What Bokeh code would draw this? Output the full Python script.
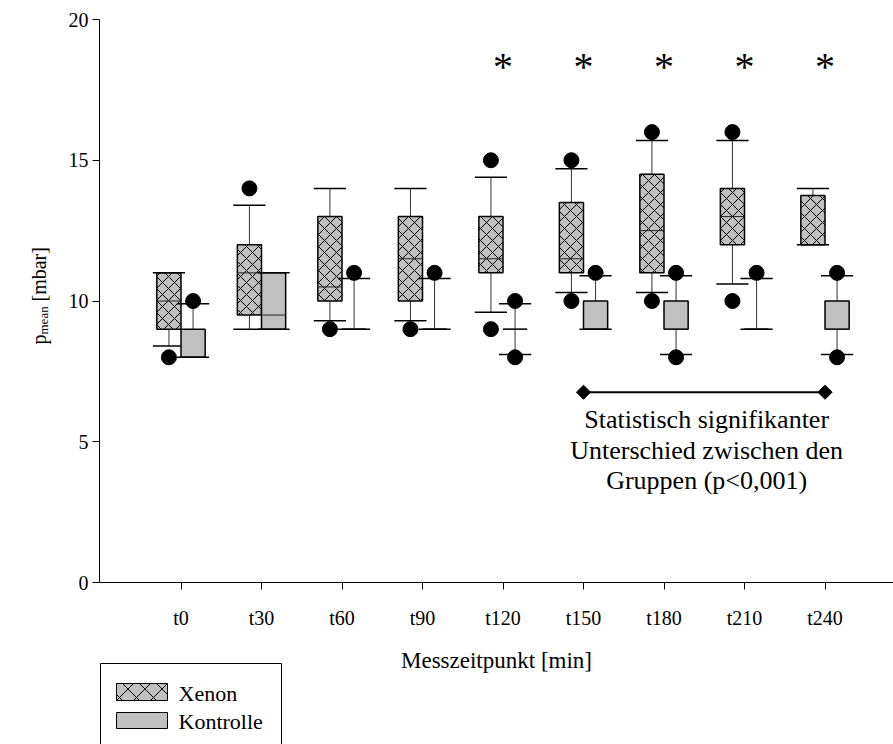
import math
from bokeh.plotting import figure
from bokeh.models import Range1d, ColumnDataSource
from bokeh.core.properties import value
from bokeh.embed import file_html
from bokeh.resources import INLINE

# ---------------- data ----------------
categories = ["t0", "t30", "t60", "t90", "t120", "t150", "t180", "t210", "t240"]

xenon_q1 = [9, 9.5, 10, 10, 11, 11, 11, 12, 12]
xenon_med = [10, 11, 10.5, 11.5, 11.5, 11.5, 12.5, 13, 12]
xenon_q3 = [11, 12, 13, 13, 13, 13.5, 14.5, 14, 13.75]
xenon_wlo = [8.4, 9, 9.3, 9.3, 9.6, 10.3, 10.3, 10.6, 12]
xenon_whi = [11, 13.4, 14, 14, 14.4, 14.7, 15.7, 15.7, 14]
xenon_out_cat = ["t0", "t30", "t60", "t90", "t120", "t120", "t150", "t150", "t180", "t180", "t210", "t210"]
xenon_out_val = [8, 14, 9, 9, 15, 9, 15, 10, 16, 10, 16, 10]

kontrolle_q1 = [8, 9, 9, 9, 9, 9, 9, 9, 9]
kontrolle_med = [8, 9.5, 9, 9, 9, 9, 9, 9, 9]
kontrolle_q3 = [9, 11, 9, 9, 9, 10, 10, 9, 10]
kontrolle_wlo = [8, 9, 9, 9, 8.1, 9, 8.1, 9, 8.1]
kontrolle_whi = [9.9, 11, 10.8, 10.8, 9.9, 10.9, 10.9, 10.8, 10.9]
kontrolle_out_cat = ["t0", "t60", "t90", "t120", "t120", "t150", "t180", "t180", "t210", "t240", "t240"]
kontrolle_out_val = [10, 11, 11, 10, 8, 11, 11, 8, 11, 11, 8]

sig_cats = ["t120", "t150", "t180", "t210", "t240"]
sig_range = ["t150", "t240"]
sig_text = ["Statistisch signifikanter", "Unterschied zwischen den", "Gruppen (p<0,001)"]

y_ticks = [0, 5, 10, 15, 20]

# ---------------- layout helpers ----------------
W, H = 893, 744
X0_PX, DX_PX = 180.5, 80.5      # px of first category, px per category
Y0_PX, DY_PX = 582.0, 28.15     # px of value 0, px per unit


def px_x(px):
    return (px - X0_PX) / DX_PX


def px_y(py):
    return (Y0_PX - py) / DY_PX


idx = {c: i for i, c in enumerate(categories)}
FONT = "Liberation Serif"
GRAY = "#C0C0C0"
BOXW = 0.3
CAPW = 0.2

p = figure(width=W, height=H, output_backend="svg", toolbar_location=None,
           x_range=Range1d(px_x(0), px_x(W)),
           y_range=Range1d(px_y(H), px_y(0)),
           min_border=0, min_border_left=0, min_border_right=0,
           min_border_top=0, min_border_bottom=0)
p.outline_line_color = None
p.xgrid.visible = False
p.ygrid.visible = False
p.background_fill_color = "white"
p.border_fill_color = "white"

# axes
xa = p.xaxis[0]
ya = p.yaxis[0]
xa.fixed_location = 0
ya.fixed_location = px_x(99)
xa.bounds = (px_x(99), px_x(W))
ya.bounds = (0, 20)
xa.ticker = list(range(len(categories)))
xa.major_label_overrides = {i: c for i, c in enumerate(categories)}
ya.ticker = y_ticks
for ax in (xa, ya):
    ax.axis_line_color = "black"
    ax.axis_line_width = 1
    ax.major_tick_line_color = "black"
    ax.major_tick_in = 0
    ax.major_tick_out = 7
    ax.minor_tick_line_color = None
    ax.major_label_text_font = FONT
    ax.major_label_text_font_size = "20px"
    ax.major_label_text_color = "black"
xa.major_label_standoff = 17
ya.major_label_standoff = 4
xa.axis_label = "Messzeitpunkt [min]"
xa.axis_label_text_font = FONT
xa.axis_label_text_font_size = "23px"
xa.axis_label_text_font_style = "normal"
xa.axis_label_text_color = "black"
xa.axis_label_standoff = 16


def draw_group(q1, med, q3, wlo, whi, out_cat, out_val, offset, hatch):
    n = len(categories)
    centers = [i + offset for i in range(n)]
    src = ColumnDataSource(dict(
        x=centers, left=[c - BOXW / 2 for c in centers], right=[c + BOXW / 2 for c in centers],
        q1=q1, med=med, q3=q3, wlo=wlo, whi=whi,
        cl=[c - CAPW for c in centers], cr=[c + CAPW for c in centers]))
    p.segment(x0="x", y0="q3", x1="x", y1="whi", source=src, line_color="#333333", line_width=1)
    p.segment(x0="x", y0="q1", x1="x", y1="wlo", source=src, line_color="#333333", line_width=1)
    kw = dict(hatch_pattern="x", hatch_color="black", hatch_scale=12, hatch_weight=1) if hatch else {}
    p.quad(left="left", right="right", bottom="q1", top="q3", source=src,
           fill_color=GRAY, line_color="black", line_width=1.5, **kw)
    p.segment(x0="left", y0="med", x1="right", y1="med", source=src, line_color="#222222", line_width=1)
    p.segment(x0="cl", y0="whi", x1="cr", y1="whi", source=src, line_color="black", line_width=1.5)
    p.segment(x0="cl", y0="wlo", x1="cr", y1="wlo", source=src, line_color="black", line_width=1.5)
    p.scatter(x=[idx[c] + offset for c in out_cat], y=out_val, size=15,
              marker="circle", fill_color="black", line_color="black")


draw_group(xenon_q1, xenon_med, xenon_q3, xenon_wlo, xenon_whi,
           xenon_out_cat, xenon_out_val, -BOXW / 2, True)
draw_group(kontrolle_q1, kontrolle_med, kontrolle_q3, kontrolle_wlo, kontrolle_whi,
           kontrolle_out_cat, kontrolle_out_val, BOXW / 2, False)

# asterisks
p.text(x=[idx[c] for c in sig_cats], y=[px_y(66)] * len(sig_cats), text=["*"] * len(sig_cats),
       text_font=value(FONT), text_font_size="40px", text_align="center",
       text_baseline="middle", text_color="black")

# significance bracket
sx = [idx[c] for c in sig_range]
sy = [px_y(391.7)] * 2
p.line(x=sx, y=sy, line_color="black", line_width=2)
p.scatter(x=sx, y=sy, marker="square", angle=math.pi / 4, size=10,
          fill_color="black", line_color="black")
mid = (sx[0] + sx[1]) / 2 + 0.03
p.text(x=[mid] * 3, y=[px_y(419), px_y(449.5), px_y(480)], text=sig_text,
       text_font=value(FONT), text_font_size="26px", text_align="center",
       text_baseline="middle", text_color="black")

# y-axis label  p_mean [mbar]
ang = math.pi / 2
p.text(x=[px_x(38.5)], y=[px_y(344)], text=["p"], angle=ang, text_font=value(FONT),
       text_font_size="20px", text_align="left", text_baseline="alphabetic", text_color="black")
p.text(x=[px_x(42.5)], y=[px_y(334)], text=["mean"], angle=ang, text_font=value(FONT),
       text_font_size="13px", text_align="left", text_baseline="alphabetic", text_color="black")
p.text(x=[px_x(38.5)], y=[px_y(301)], text=["[mbar]"], angle=ang, text_font=value(FONT),
       text_font_size="20px", text_align="left", text_baseline="alphabetic", text_color="black")

# legend
p.quad(left=[px_x(100)], right=[px_x(281)], top=[px_y(663)], bottom=[px_y(790)],
       fill_color=None, line_color="black", line_width=1)
p.quad(left=[px_x(116)], right=[px_x(167)], top=[px_y(683)], bottom=[px_y(700)],
       fill_color=GRAY, line_color="black", line_width=1,
       hatch_pattern="x", hatch_color="black", hatch_scale=17, hatch_weight=1)
p.quad(left=[px_x(116)], right=[px_x(167)], top=[px_y(712)], bottom=[px_y(728)],
       fill_color=GRAY, line_color="black", line_width=1)
p.text(x=[px_x(178)] * 2, y=[px_y(693), px_y(721)], text=["Xenon", "Kontrolle"],
       text_font=value(FONT), text_font_size="22px", text_align="left",
       text_baseline="middle", text_color="black")

open("out.html", "w").write(file_html(p, INLINE))
